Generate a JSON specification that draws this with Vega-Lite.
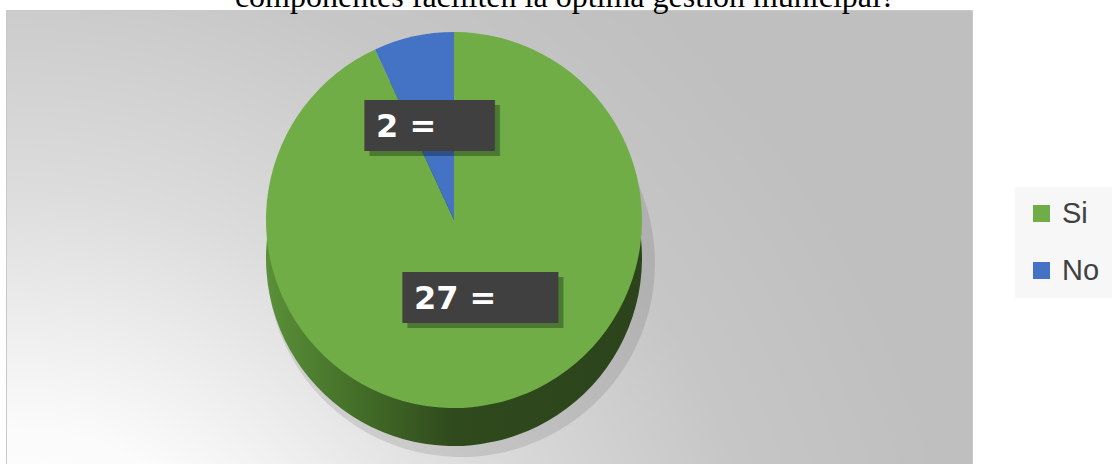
{
  "$schema": "https://vega.github.io/schema/vega-lite/v6.json",
  "width": 966,
  "height": 454,
  "autosize": {"type": "none"},
  "padding": {"left": 6, "top": 10, "right": 146, "bottom": 0},
  "background": "#ffffff",
  "title": {
    "text": "componentes faciliten la óptima gestión municipal?",
    "font": "Liberation Serif",
    "fontSize": 32,
    "fontWeight": "normal",
    "color": "#000000",
    "anchor": "middle",
    "frame": "group",
    "baseline": "alphabetic",
    "offset": -29,
    "dx": 76
  },
  "view": {
    "fill": {
      "gradient": "radial",
      "x1": 0, "y1": 1, "r1": 0,
      "x2": 0, "y2": 1, "r2": 1,
      "stops": [
        {"offset": 0, "color": "#ffffff"},
        {"offset": 0.3, "color": "#fbfbfb"},
        {"offset": 0.55, "color": "#dcdcdc"},
        {"offset": 0.8, "color": "#c6c6c6"},
        {"offset": 1, "color": "#bfbfbf"}
      ]
    },
    "stroke": "#c8c8c8"
  },
  "data": {
    "values": [
      {"respuesta": "Si", "cantidad": 27},
      {"respuesta": "No", "cantidad": 2}
    ]
  },
  "encoding": {
    "theta": {"field": "cantidad", "type": "quantitative", "stack": true},
    "order": {"field": "respuesta", "sort": "descending"}
  },
  "layer": [
    {
      "mark": {
        "type": "arc",
        "radius": 194,
        "xOffset": -28,
        "yOffset": 26,
        "color": "#000000",
        "opacity": 0.1
      }
    },
    {
      "mark": {
        "type": "arc",
        "radius": 188,
        "xOffset": -35,
        "yOffset": 21,
        "fill": {
          "gradient": "linear",
          "x1": 0, "y1": 0, "x2": 1, "y2": 0,
          "stops": [
            {"offset": 0, "color": "#5a9038"},
            {"offset": 0.25, "color": "#436d28"},
            {"offset": 0.5, "color": "#2f4a1d"},
            {"offset": 1, "color": "#2c431b"}
          ]
        }
      }
    },
    {
      "mark": {"type": "arc", "radius": 188, "xOffset": -35, "yOffset": -17},
      "encoding": {
        "color": {
          "field": "respuesta",
          "type": "nominal",
          "scale": {"domain": ["Si", "No"], "range": ["#70ad47", "#4472c4"]},
          "legend": {
            "orient": "none",
            "legendX": 1009,
            "legendY": 177,
            "title": null,
            "fillColor": "#f7f7f7",
            "padding": 12,
            "symbolType": "square",
            "symbolSize": 289,
            "symbolStrokeWidth": 0,
            "labelFont": "Liberation Sans",
            "labelFontSize": 29,
            "labelColor": "#404040",
            "rowPadding": 27,
            "labelOffset": 6
          }
        }
      }
    },
    {
      "mark": {
        "type": "text",
        "radius": 88,
        "font": "DejaVu Sans Mono",
        "fontSize": 43,
        "align": "left",
        "baseline": "middle",
        "dx": -100,
        "dy": -19,
        "color": "#000000",
        "opacity": 0.3
      },
      "encoding": {
        "text": {"condition": {"test": "datum.respuesta == 'Si'", "value": "██████"}, "value": "█████"}
      }
    },
    {
      "mark": {
        "type": "text",
        "radius": 88,
        "font": "DejaVu Sans Mono",
        "fontSize": 43,
        "align": "left",
        "baseline": "middle",
        "dx": -105,
        "dy": -24,
        "color": "#404040"
      },
      "encoding": {
        "text": {"condition": {"test": "datum.respuesta == 'Si'", "value": "██████"}, "value": "█████"}
      }
    },
    {
      "mark": {
        "type": "text",
        "radius": 88,
        "font": "DejaVu Sans",
        "fontWeight": "bold",
        "fontSize": 32,
        "align": "left",
        "baseline": "middle",
        "dx": -94,
        "dy": -24,
        "color": "#ffffff"
      },
      "encoding": {
        "text": {"field": "label"}
      },
      "transform": [{"calculate": "datum.cantidad + ' ='", "as": "label"}]
    }
  ]
}
